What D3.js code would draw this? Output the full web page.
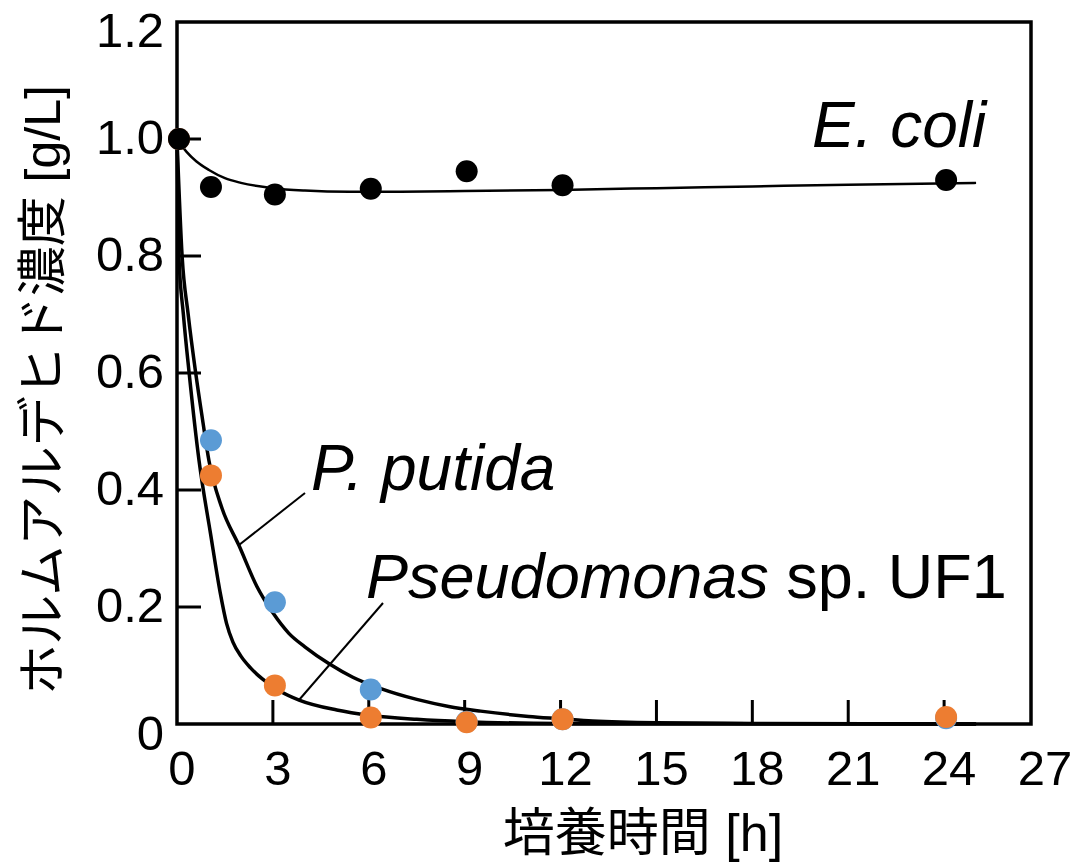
<!DOCTYPE html>
<html>
<head>
<meta charset="utf-8">
<script src="https://cdn.jsdelivr.net/npm/d3@7"></script>
<style>
  html, body { margin: 0; padding: 0; background: #fff; }
  svg { display: block; }
  text { font-family: "Liberation Sans", Arial, "Noto Sans CJK JP", sans-serif; fill: #000; }
</style>
</head>
<body>
<svg id="chart" width="1079" height="868"></svg>
<script>
// Sampling times [h]
const hours = [0, 1, 3, 6, 9, 12, 24];

// Measured formaldehyde concentration [g/L]
const ecoliValues  = [1.0, 0.918, 0.905, 0.915, 0.945, 0.921, 0.930];
const putidaValues = [1.0, 0.485, 0.208, 0.059, 0.004, 0.008, 0.010];
const uf1Values    = [1.0, 0.425, 0.066, 0.011, 0.003, 0.008, 0.012];

// Fitted curves (time, concentration)
const ecoliFitHours  = [0, 0.3, 0.6, 1, 1.5, 2, 3, 4, 5.4, 7, 9, 12, 15, 18, 21, 25];
const ecoliFitValues = [1.0, 0.978, 0.962, 0.947, 0.933, 0.925, 0.916, 0.912, 0.910, 0.910, 0.911, 0.913, 0.916, 0.919, 0.922, 0.925];

const putidaFitHours  = [0, 0.16, 0.35, 0.585, 0.8, 1.0, 1.4, 1.94, 2.5, 3, 3.5, 4, 4.76, 5.5, 6.4, 7.5, 8.5, 9.5, 11, 12, 13, 15, 18, 25];
const putidaFitValues = [1.0, 0.80, 0.70, 0.60, 0.52, 0.45, 0.37, 0.305, 0.235, 0.19, 0.155, 0.132, 0.103, 0.080, 0.060, 0.042, 0.030, 0.022, 0.013, 0.009, 0.005, 0.002, 0.001, 0.0];

const uf1FitHours  = [0, 0.06, 0.2, 0.38, 0.69, 1.05, 1.35, 1.55, 1.75, 2.0, 2.3, 2.67, 3.2, 3.82, 5, 6, 7.5, 9, 12, 25];
const uf1FitValues = [1.0, 0.80, 0.70, 0.60, 0.45, 0.325, 0.225, 0.172, 0.140, 0.116, 0.096, 0.077, 0.057, 0.041, 0.024, 0.015, 0.008, 0.004, 0.001, 0.0];

// Axis ticks
const xTicks = [0, 3, 6, 9, 12, 15, 18, 21, 24, 27];
const yTicks = [0, 0.2, 0.4, 0.6, 0.8, 1.0, 1.2];
const yTickLabels = ["0", "0.2", "0.4", "0.6", "0.8", "1.0", "1.2"];

const xTitle = "培養時間 [h]";
const yTitle = "ホルムアルデヒド濃度 [g/L]";

const colors = { ecoli: "#000000", putida: "#5B9BD5", uf1: "#ED7D31" };

const svg = d3.select("#chart");

const x = d3.scaleLinear().domain([0, 27]).range([177, 1040]);
const y = d3.scaleLinear().domain([0, 1.2]).range([724, 22]);
const frameRight = 1031;

// Plot frame
svg.append("rect")
  .attr("x", x(0)).attr("y", y(1.2))
  .attr("width", frameRight - x(0)).attr("height", y(0) - y(1.2))
  .attr("fill", "none").attr("stroke", "#000").attr("stroke-width", 3.5);

// Inward ticks
svg.append("g").selectAll("line")
  .data(xTicks.filter(t => t > 0 && t < 27))
  .join("line")
  .attr("x1", d => x(d)).attr("x2", d => x(d))
  .attr("y1", y(0)).attr("y2", y(0) - 24)
  .attr("stroke", "#000").attr("stroke-width", 3);

svg.append("g").selectAll("line")
  .data(yTicks.filter(t => t > 0 && t < 1.2))
  .join("line")
  .attr("x1", x(0)).attr("x2", x(0) + 24)
  .attr("y1", d => y(d)).attr("y2", d => y(d))
  .attr("stroke", "#000").attr("stroke-width", 3);

// Tick labels
svg.append("g").selectAll("text")
  .data(xTicks)
  .join("text")
  .attr("x", d => x(d) + 5)
  .attr("y", 768)
  .attr("text-anchor", "middle")
  .attr("dominant-baseline", "central")
  .attr("font-size", 49)
  .text(d => d);

// end labels sit inside the plot's vertical span
const yLabelShift = d => d === 0 ? 9 : (d === 1.2 ? 8 : -2);
svg.append("g").selectAll("text")
  .data(yTicks)
  .join("text")
  .attr("x", 164)
  .attr("y", d => y(d) + yLabelShift(d))
  .attr("text-anchor", "end")
  .attr("dominant-baseline", "central")
  .attr("font-size", 49)
  .text((d, i) => yTickLabels[i]);

// Axis titles
svg.append("text")
  .attr("x", 643).attr("y", 833)
  .attr("text-anchor", "middle")
  .attr("dominant-baseline", "central")
  .attr("font-size", 52)
  .text(xTitle);

svg.append("text")
  .attr("transform", "translate(43,390) rotate(-90)")
  .attr("text-anchor", "middle")
  .attr("dominant-baseline", "central")
  .attr("font-size", 50)
  .text(yTitle);

// Fitted curves
const line = d3.line()
  .x(d => x(d[0])).y(d => y(d[1]))
  .curve(d3.curveMonotoneX);

const zip = (a, b) => a.map((v, i) => [v, b[i]]);

svg.append("path")
  .attr("d", line(zip(putidaFitHours, putidaFitValues)))
  .attr("fill", "none").attr("stroke", "#000").attr("stroke-width", 3.5);
svg.append("path")
  .attr("d", line(zip(uf1FitHours, uf1FitValues)))
  .attr("fill", "none").attr("stroke", "#000").attr("stroke-width", 3.5);
svg.append("path")
  .attr("d", line(zip(ecoliFitHours, ecoliFitValues)))
  .attr("fill", "none").attr("stroke", "#000").attr("stroke-width", 2.5);

// Leader lines for the series labels
svg.append("line")
  .attr("x1", 305).attr("y1", 493).attr("x2", 239).attr("y2", 545)
  .attr("stroke", "#000").attr("stroke-width", 2);
svg.append("line")
  .attr("x1", 383).attr("y1", 603).attr("x2", 299).attr("y2", 700)
  .attr("stroke", "#000").attr("stroke-width", 2);

// Data points
function dots(values, color) {
  svg.append("g").selectAll("circle")
    .data(zip(hours, values))
    .join("circle")
    .attr("cx", d => x(d[0]) + 2)
    .attr("cy", d => y(d[1]))
    .attr("r", 11)
    .attr("fill", color);
}
dots(putidaValues, colors.putida);
dots(uf1Values, colors.uf1);
dots(ecoliValues, colors.ecoli);

// Series labels
svg.append("text")
  .attr("x", 812).attr("y", 147)
  .attr("font-size", 64).attr("font-style", "italic")
  .text("E. coli");

svg.append("text")
  .attr("x", 311).attr("y", 490)
  .attr("font-size", 64).attr("font-style", "italic")
  .text("P. putida");

const uf1Label = svg.append("text")
  .attr("x", 366).attr("y", 598)
  .attr("font-size", 63);
uf1Label.append("tspan").attr("font-style", "italic").text("Pseudomonas");
uf1Label.append("tspan").text(" sp. UF1");
</script>
</body>
</html>
